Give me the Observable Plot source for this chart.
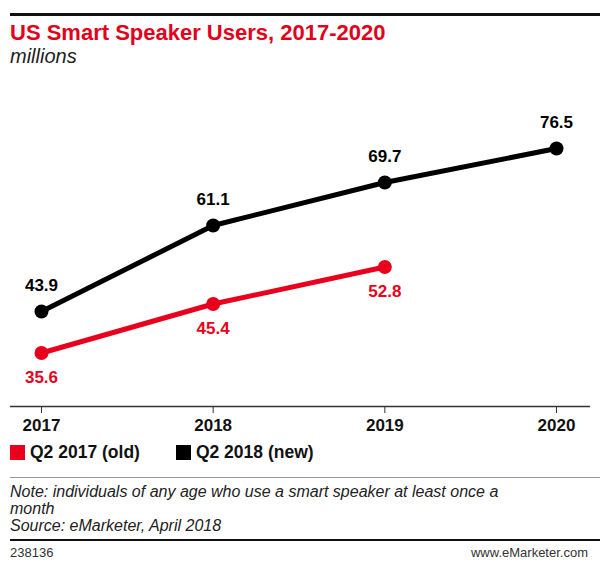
<!DOCTYPE html>
<html><head><meta charset="utf-8">
<script src="https://cdn.jsdelivr.net/npm/d3@7"></script>
<script src="https://cdn.jsdelivr.net/npm/@observablehq/plot@0.6"></script>
<style>
body{margin:0;background:#fff;font-family:"Liberation Sans",Arial,sans-serif;}
#wrap{position:relative;width:600px;height:570px;overflow:hidden;}
.abs{position:absolute;}
</style></head>
<body><div id="wrap">
<div class="abs" style="left:10px;top:13px;width:590px;height:3px;background:#111"></div>
<div class="abs" id="title" style="left:10px;top:20px;font-size:22px;font-weight:bold;color:#e3001b;white-space:nowrap">US Smart Speaker Users, 2017-2020</div>
<div class="abs" style="left:10px;top:45px;font-size:20px;font-style:italic;color:#222">millions</div>
<div class="abs" id="chart" style="left:0;top:70px"></div>
<div class="abs" id="legend" style="left:10px;top:442px;font-size:17.5px;font-weight:bold;color:#111;white-space:nowrap"></div>
<div class="abs" style="left:10px;top:477px;width:590px;height:1px;background:#999"></div>
<div class="abs" style="left:10px;top:483px;font-size:16px;font-style:italic;color:#222;line-height:17px;white-space:nowrap">Note: individuals of any age who use a smart speaker at least once a<br>month<br>Source: eMarketer, April 2018</div>
<div class="abs" style="left:10px;top:539px;width:590px;height:2px;background:#111"></div>
<div class="abs" style="left:10px;top:545px;font-size:13px;color:#333">238136</div>
<div class="abs" style="right:12px;top:545px;font-size:13px;color:#333">www.eMarketer.com</div>
</div>
<script>
const years = [2017, 2018, 2019, 2020];
const newValues = [43.9, 61.1, 69.7, 76.5];
const oldYears = [2017, 2018, 2019];
const oldValues = [35.6, 45.4, 52.8];
const seriesNames = ["Q2 2017 (old)", "Q2 2018 (new)"];
const seriesColors = ["#e8001c", "#000000"];

const newData = years.map((y, i) => ({year: y, value: newValues[i]}));
const oldData = oldYears.map((y, i) => ({year: y, value: oldValues[i]}));
const baseValue = 24.9;

const chart = Plot.plot({
  width: 600,
  height: 370,
  marginLeft: 10,
  marginRight: 10,
  marginTop: 20,
  marginBottom: 34,
  style: {fontFamily: '"Liberation Sans", Arial, sans-serif', background: "transparent"},
  x: {domain: [2017, 2020], range: [41, 556]},
  y: {domain: [baseValue, 80], range: [336, 60.5], axis: null},
  marks: [
    Plot.ruleY([baseValue], {stroke: "#333", strokeWidth: 1.5}),
    Plot.axisX({ticks: years, tickFormat: d => String(d), tickSize: 7, tickPadding: 5, fontSize: 17, fontWeight: "bold", fill: "#111", stroke: "#333", label: null}),
    Plot.line(oldData, {x: "year", y: "value", stroke: seriesColors[0], strokeWidth: 5}),
    Plot.line(newData, {x: "year", y: "value", stroke: seriesColors[1], strokeWidth: 5}),
    Plot.dot(oldData, {x: "year", y: "value", fill: seriesColors[0], r: 7}),
    Plot.dot(newData, {x: "year", y: "value", fill: seriesColors[1], r: 7}),
    Plot.text(oldData, {x: "year", y: "value", text: d => d.value.toFixed(1), dy: 25, fill: seriesColors[0], fontSize: 17, fontWeight: "bold"}),
    Plot.text(newData, {x: "year", y: "value", text: d => d.value.toFixed(1), dy: -26, fill: seriesColors[1], fontSize: 17, fontWeight: "bold"})
  ]
});
document.getElementById("chart").appendChild(chart);

const legend = document.getElementById("legend");
seriesNames.forEach((name, i) => {
  const item = document.createElement("span");
  item.style.cssText = "display:inline-flex;align-items:center;margin-right:36px";
  item.innerHTML = `<span style="display:inline-block;width:15px;height:15px;background:${seriesColors[i]};margin-right:5px"></span>${name}`;
  legend.appendChild(item);
});
</script>
</body></html>
